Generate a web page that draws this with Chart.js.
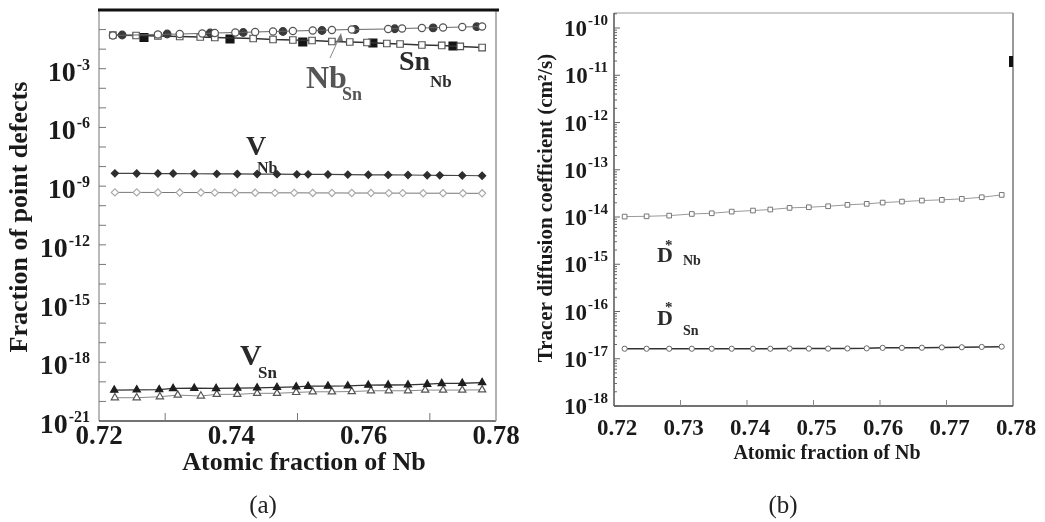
<!DOCTYPE html>
<html lang="en">
<head>
<meta charset="utf-8">
<title>Point defects and tracer diffusion vs atomic fraction of Nb</title>
<script src="https://cdn.jsdelivr.net/npm/chart.js@4.4.0/dist/chart.umd.min.js"></script>
<style>
    body { margin: 0; background: #fff; }
    #wrap { position: relative; width: 1045px; height: 522px; }
    #chartA { position: absolute; left: 0; top: 0; }
    #chartB { position: absolute; left: 520px; top: 0; }
</style>
</head>
<body>
<div id="wrap">
    <canvas id="chartA" width="520" height="522"></canvas>
    <canvas id="chartB" width="525" height="522"></canvas>
</div>
<script>
// ---------- panel (a) data: fraction of point defects ----------
const xOpenCirc = [0.7221, 0.7289, 0.7322, 0.7356, 0.7375, 0.7406, 0.7436, 0.7463, 0.7493, 0.7523, 0.7552, 0.7582, 0.7637, 0.7658, 0.7688, 0.7720, 0.7749, 0.7779];
const yOpenCirc = [0.0498, 0.056, 0.0594, 0.063, 0.0668, 0.0708, 0.0751, 0.0797, 0.0845, 0.0896, 0.095, 0.1008, 0.107, 0.1135, 0.120, 0.128, 0.135, 0.1435];
const xFillCirc = [0.7235, 0.7303, 0.7368, 0.7418, 0.7478, 0.7537, 0.7587, 0.7647, 0.7705, 0.7771];
const yFillCirc = [0.0528, 0.0594, 0.0668, 0.0708, 0.0797, 0.0896, 0.1008, 0.110, 0.123, 0.140];
const xOpenSq = [0.7221, 0.7256, 0.7289, 0.7322, 0.7353, 0.7375, 0.7433, 0.7463, 0.7493, 0.7522, 0.7552, 0.7579, 0.7605, 0.7635, 0.7655, 0.7688, 0.7718, 0.7746, 0.7779];
const yOpenSq = [0.0528, 0.0498, 0.0469, 0.0442, 0.0417, 0.0393, 0.035, 0.0311, 0.0293, 0.0276, 0.0246, 0.0232, 0.0218, 0.0194, 0.0183, 0.0163, 0.0154, 0.0137, 0.0121];
const xFillSq = [0.7268, 0.7398, 0.7508, 0.7614, 0.7735];
const yFillSq = [0.0393, 0.033, 0.0232, 0.0206, 0.0145];
const xVNb = [0.7224, 0.7257, 0.7289, 0.7312, 0.7344, 0.7378, 0.7409, 0.7439, 0.7469, 0.7499, 0.7516, 0.7546, 0.7576, 0.7607, 0.7637, 0.7667, 0.7696, 0.7715, 0.7749, 0.7779];
const yVNb = [4.5e-9, 4.45e-9, 4.4e-9, 4.4e-9, 4.3e-9, 4.25e-9, 4.2e-9, 4.15e-9, 4.1e-9, 4.0e-9, 4.0e-9, 3.95e-9, 3.9e-9, 3.8e-9, 3.75e-9, 3.7e-9, 3.6e-9, 3.55e-9, 3.5e-9, 3.4e-9];
const xVNbOpen = [0.7224, 0.7257, 0.7289, 0.7322, 0.7354, 0.7375, 0.7406, 0.7436, 0.7466, 0.7495, 0.7523, 0.7552, 0.7582, 0.7611, 0.7638, 0.7659, 0.7690, 0.7720, 0.7750, 0.7779];
const yVNbOpen = [4.8e-10, 4.8e-10, 4.75e-10, 4.7e-10, 4.7e-10, 4.65e-10, 4.6e-10, 4.6e-10, 4.55e-10, 4.55e-10, 4.5e-10, 4.5e-10, 4.45e-10, 4.45e-10, 4.4e-10, 4.4e-10, 4.35e-10, 4.35e-10, 4.3e-10, 4.3e-10];
const xVSn = [0.7223, 0.7257, 0.7291, 0.7312, 0.7344, 0.7377, 0.7409, 0.7439, 0.7469, 0.7498, 0.7516, 0.7546, 0.7576, 0.7607, 0.7637, 0.7667, 0.7696, 0.7718, 0.7749, 0.7779];
const yVSn = [3.8e-20, 3.9e-20, 4.0e-20, 4.6e-20, 4.7e-20, 4.6e-20, 4.8e-20, 4.9e-20, 5.2e-20, 5.6e-20, 6.0e-20, 6.1e-20, 6.2e-20, 6.8e-20, 6.9e-20, 7.0e-20, 7.6e-20, 8.3e-20, 8.5e-20, 9.2e-20];
const xVSnOpen = [0.7224, 0.7257, 0.7292, 0.7319, 0.7354, 0.7378, 0.7409, 0.7439, 0.7469, 0.7498, 0.7523, 0.7552, 0.7582, 0.7611, 0.7638, 0.7667, 0.7693, 0.7720, 0.7749, 0.7779];
const yVSnOpen = [1.55e-20, 1.55e-20, 1.74e-20, 2.1e-20, 1.9e-20, 2.3e-20, 2.3e-20, 2.6e-20, 2.6e-20, 2.9e-20, 3.1e-20, 3.1e-20, 3.2e-20, 3.5e-20, 3.5e-20, 3.5e-20, 3.8e-20, 3.8e-20, 3.8e-20, 3.9e-20];

const xTickLabelsA = [0.72, 0.74, 0.76, 0.78];
const xMinorA = [0.73, 0.75, 0.77];
const yLabelExpA = [-3, -6, -9, -12, -15, -18, -21];

// ---------- panel (b) data: tracer diffusion coefficient ----------
const xDiff = [0.7216, 0.7249, 0.7283, 0.7317, 0.7347, 0.7377, 0.7409, 0.7435, 0.7464, 0.7493, 0.7522, 0.7551, 0.7580, 0.7604, 0.7633, 0.7663, 0.7693, 0.7723, 0.7753, 0.7783];
const yDNb = [1.02e-14, 1.035e-14, 1.07e-14, 1.16e-14, 1.2e-14, 1.3e-14, 1.37e-14, 1.44e-14, 1.56e-14, 1.61e-14, 1.69e-14, 1.81e-14, 1.9e-14, 2.02e-14, 2.12e-14, 2.23e-14, 2.31e-14, 2.42e-14, 2.62e-14, 2.94e-14];
const yDSn = [1.63e-17, 1.63e-17, 1.63e-17, 1.63e-17, 1.63e-17, 1.63e-17, 1.63e-17, 1.63e-17, 1.64e-17, 1.64e-17, 1.64e-17, 1.65e-17, 1.66e-17, 1.70e-17, 1.70e-17, 1.71e-17, 1.74e-17, 1.75e-17, 1.78e-17, 1.80e-17];

const xTickLabelsB = [0.72, 0.73, 0.74, 0.75, 0.76, 0.77, 0.78];
const yLabelExpB = [-10, -11, -12, -13, -14, -15, -16, -17, -18];

// ---------- helpers ----------
const SERIF = '"Liberation Serif", "Times New Roman", serif';
function font(size, bold) { return (bold ? 'bold ' : '') + size + 'px ' + SERIF; }
function pts(xs, ys) { return xs.map(function (x, i) { return { x: x, y: ys[i] }; }); }

function line(ctx, x1, y1, x2, y2, color, w) {
    ctx.strokeStyle = color;
    ctx.lineWidth = w;
    ctx.beginPath();
    ctx.moveTo(x1, y1);
    ctx.lineTo(x2, y2);
    ctx.stroke();
}

function text(ctx, str, x, y, size, bold, color, align, base) {
    ctx.font = font(size, bold);
    ctx.fillStyle = color || '#1a1a1a';
    ctx.textAlign = align || 'left';
    ctx.textBaseline = base || 'alphabetic';
    ctx.fillText(str, x, y);
}

// "10" with a raised exponent, right aligned
function drawPow(ctx, exp, right, tickY, s) {
    ctx.font = font(s.big, true);
    var wb = ctx.measureText('10').width;
    ctx.font = font(s.small, true);
    var we = ctx.measureText(exp).width;
    var left = right - wb - we;
    text(ctx, '10', left, tickY + s.dyBig, s.big, true, '#1a1a1a');
    text(ctx, exp, left + wb + 1, tickY + s.dyExp, s.small, true, '#1a1a1a');
}

function dataset(data, style) {
    return Object.assign({
        data: data,
        showLine: true,
        borderWidth: 1,
        pointBorderWidth: 1.2,
        clip: false
    }, style);
}

// ---------- panel (a) decorations ----------
const decorA = {
    id: 'decorA',
    afterDraw: function (chart) {
        var ctx = chart.ctx, a = chart.chartArea, x = chart.scales.x, y = chart.scales.y;
        ctx.save();
        // frame
        line(ctx, a.left, a.top, a.left, a.bottom, '#8a8a8a', 1.2);
        line(ctx, a.left, a.bottom, a.right, a.bottom, '#444', 1.5);
        line(ctx, a.right, a.top, a.right, a.bottom, '#999', 1.5);
        line(ctx, a.left - 1, a.top, a.right + 3, a.top, '#111', 3);
        // y ticks every decade
        for (var e = -20; e <= -1; e++) {
            var py = y.getPixelForValue(Math.pow(10, e));
            line(ctx, a.left, py, a.left + 7, py, '#777', 1);
        }
        yLabelExpA.forEach(function (e) {
            drawPow(ctx, '-' + Math.abs(e), 89, y.getPixelForValue(Math.pow(10, e)),
                { big: 28, small: 16, dyBig: 12, dyExp: 1 });
        });
        // x ticks
        xMinorA.forEach(function (v) {
            var px = x.getPixelForValue(v);
            line(ctx, px, a.bottom, px, a.bottom - 8, '#777', 1);
        });
        xTickLabelsA.forEach(function (v) {
            text(ctx, v.toFixed(2), x.getPixelForValue(v), 437, 27, true, '#1a1a1a', 'center', 'middle');
        });
        // axis titles
        text(ctx, 'Atomic fraction of Nb', 304, 463, 26, true, '#1a1a1a', 'center', 'middle');
        ctx.save();
        ctx.translate(20, 217);
        ctx.rotate(-Math.PI / 2);
        text(ctx, 'Fraction of point defects', 0, 0, 26, true, '#1a1a1a', 'center', 'middle');
        ctx.restore();
        // curve labels
        text(ctx, 'Nb', 306, 88, 32, true, '#555');
        text(ctx, 'Sn', 342, 100, 18, true, '#555');
        text(ctx, 'Sn', 399, 70, 28, true, '#2a2a2a');
        text(ctx, 'Nb', 430, 87, 17, true, '#2a2a2a');
        text(ctx, 'V', 246, 155, 28, true, '#2a2a2a');
        text(ctx, 'Nb', 257, 173, 16, true, '#2a2a2a');
        text(ctx, 'V', 240, 365, 30, true, '#2a2a2a');
        text(ctx, 'Sn', 258, 378, 17, true, '#2a2a2a');
        // arrow to the Nb_Sn curve
        line(ctx, 330, 58, 340, 36, '#888', 1);
        ctx.fillStyle = '#777';
        ctx.beginPath();
        ctx.moveTo(341, 33);
        ctx.lineTo(336, 42);
        ctx.lineTo(343, 41);
        ctx.closePath();
        ctx.fill();
        // caption
        text(ctx, '(a)', 263, 506, 25, false, '#222', 'center', 'middle');
        ctx.restore();
    }
};

// ---------- panel (b) decorations ----------
const decorB = {
    id: 'decorB',
    afterDraw: function (chart) {
        var ctx = chart.ctx, a = chart.chartArea, x = chart.scales.x, y = chart.scales.y;
        ctx.save();
        line(ctx, a.left, a.top, a.right, a.top, '#999', 1.2);
        line(ctx, a.right, a.top, a.right, a.bottom, '#777', 1.5);
        line(ctx, a.left, a.top, a.left, a.bottom, '#555', 1.5);
        line(ctx, a.left, a.bottom, a.right, a.bottom, '#444', 1.5);
        // stray mark on right border
        ctx.fillStyle = '#111';
        ctx.fillRect(a.right - 4, 56, 4, 11);
        // log ticks on left axis
        for (var e = -18; e <= -10; e++) {
            for (var m = 1; m <= 9; m++) {
                var v = m * Math.pow(10, e);
                if (v > y.max) break;
                var py = y.getPixelForValue(v);
                line(ctx, a.left, py, a.left + (m === 1 ? 6 : 3), py, '#666', 1);
            }
        }
        yLabelExpB.forEach(function (e) {
            drawPow(ctx, '-' + Math.abs(e), 87, y.getPixelForValue(Math.pow(10, e)),
                { big: 23, small: 15, dyBig: 8, dyExp: -3 });
        });
        xTickLabelsB.forEach(function (v, i) {
            var px = x.getPixelForValue(v);
            if (i > 0 && i < xTickLabelsB.length - 1) line(ctx, px, a.bottom, px, a.bottom - 6, '#888', 1);
            text(ctx, v.toFixed(2), px + 3, 429, 23, true, '#1a1a1a', 'center', 'middle');
        });
        text(ctx, 'Atomic fraction of Nb', 307, 454, 20, true, '#1a1a1a', 'center', 'middle');
        ctx.save();
        ctx.translate(27, 208);
        ctx.rotate(-Math.PI / 2);
        text(ctx, 'Tracer diffusion coefficient (cm\u00B2/s)', 0, 0, 21, true, '#1a1a1a', 'center', 'middle');
        ctx.restore();
        // curve labels
        text(ctx, 'D', 137, 262, 22, true, '#2a2a2a');
        text(ctx, '*', 145, 250, 15, true, '#2a2a2a');
        text(ctx, 'Nb', 163, 265, 14, true, '#2a2a2a');
        text(ctx, 'D', 137, 325, 22, true, '#2a2a2a');
        text(ctx, '*', 145, 312, 15, true, '#2a2a2a');
        text(ctx, 'Sn', 163, 335, 14, true, '#2a2a2a');
        text(ctx, '(b)', 263, 506, 25, false, '#222', 'center', 'middle');
        ctx.restore();
    }
};

const baseOptions = {
    responsive: false,
    animation: false,
    devicePixelRatio: 1,
    plugins: { legend: { display: false }, tooltip: { enabled: false } },
    elements: { line: { tension: 0 } }
};

// ---------- chart (a) ----------
new Chart(document.getElementById('chartA').getContext('2d'), {
    type: 'scatter',
    data: {
        datasets: [
            dataset(pts(xOpenCirc, yOpenCirc), { label: 'Nb_Sn', borderColor: '#666', pointStyle: 'circle', pointRadius: 3.6, pointBackgroundColor: '#fff', pointBorderColor: '#555' }),
            dataset(pts(xFillCirc, yFillCirc), { label: 'Nb_Sn filled', showLine: false, pointStyle: 'circle', pointRadius: 3.8, pointBackgroundColor: '#3a3a3a', pointBorderColor: '#3a3a3a' }),
            dataset(pts(xOpenSq, yOpenSq), { label: 'Sn_Nb', borderColor: '#333', borderWidth: 1.5, pointStyle: 'rect', pointRadius: 4.6, pointBackgroundColor: '#fff', pointBorderColor: '#555' }),
            dataset(pts(xFillSq, yFillSq), { label: 'Sn_Nb filled', showLine: false, pointStyle: 'rect', pointRadius: 5.6, pointBackgroundColor: '#151515', pointBorderColor: '#151515' }),
            dataset(pts(xVNb, yVNb), { label: 'V_Nb', borderColor: '#444', borderWidth: 1.2, pointStyle: 'rectRot', pointRadius: 3.6, pointBackgroundColor: '#2e2e2e', pointBorderColor: '#2e2e2e' }),
            dataset(pts(xVNbOpen, yVNbOpen), { label: 'V_Nb open', borderColor: '#777', pointStyle: 'rectRot', pointRadius: 3.6, pointBackgroundColor: '#fff', pointBorderColor: '#aaa' }),
            dataset(pts(xVSn, yVSn), { label: 'V_Sn', borderColor: '#333', borderWidth: 1.3, pointStyle: 'triangle', pointRadius: 4.2, pointBackgroundColor: '#1e1e1e', pointBorderColor: '#1e1e1e' }),
            dataset(pts(xVSnOpen, yVSnOpen), { label: 'V_Sn open', borderColor: '#888', pointStyle: 'triangle', pointRadius: 4.2, pointBackgroundColor: '#fff', pointBorderColor: '#555' })
        ]
    },
    options: Object.assign({}, baseOptions, {
        layout: { padding: { left: 99, right: 24, top: 10, bottom: 101 } },
        scales: {
            x: { type: 'linear', min: 0.72, max: 0.78, display: false },
            y: { type: 'logarithmic', min: 1e-21, max: 1, display: false }
        }
    }),
    plugins: [decorA]
});

// ---------- chart (b) ----------
new Chart(document.getElementById('chartB').getContext('2d'), {
    type: 'scatter',
    data: {
        datasets: [
            dataset(pts(xDiff, yDNb), { label: 'D*_Nb', borderColor: '#999', pointStyle: 'rect', pointRadius: 3.3, pointBorderWidth: 1, pointBackgroundColor: '#fff', pointBorderColor: '#777' }),
            dataset(pts(xDiff, yDSn), { label: 'D*_Sn', borderColor: '#333', borderWidth: 1.5, pointStyle: 'circle', pointRadius: 2.6, pointBorderWidth: 1, pointBackgroundColor: '#fff', pointBorderColor: '#666' })
        ]
    },
    options: Object.assign({}, baseOptions, {
        layout: { padding: { left: 94, right: 32, top: 13, bottom: 116 } },
        scales: {
            x: { type: 'linear', min: 0.72, max: 0.78, display: false },
            y: { type: 'logarithmic', min: 1e-18, max: 2.08e-10, display: false }
        }
    }),
    plugins: [decorB]
});
</script>
</body>
</html>
